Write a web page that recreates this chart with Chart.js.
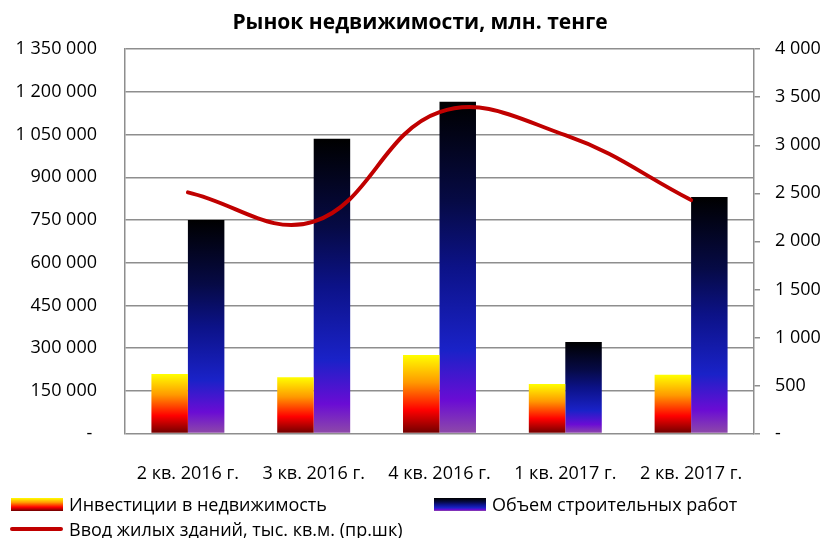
<!DOCTYPE html>
<html>
<head>
<meta charset="utf-8">
<script src="https://cdn.jsdelivr.net/npm/chart.js@4"></script>
<style>
  body { margin: 0; background: #fff; }
  #wrap { position: relative; width: 825px; height: 538px; }
  .lg { position: absolute; display: flex; align-items: center; height: 24px; font-family: 'Open Sans', sans-serif; font-size: 18px; color: #000; white-space: nowrap; }
  .lg .sw { width: 52px; height: 13px; margin-right: 6px; flex: none; }
  .lg .ln { width: 53px; height: 4px; margin-right: 6px; border-radius: 2px; flex: none; }
</style>
</head>
<body>
<div id="wrap">
  <canvas id="myChart" width="825" height="538"></canvas>
  <div id="legend"></div>
</div>
<script>
// данные
const categories = ['2 кв. 2016 г.', '3 кв. 2016 г.', '4 кв. 2016 г.', '1 кв. 2017 г.', '2 кв. 2017 г.'];
const investments = [209000, 198000, 276000, 174000, 206000];
const workVolume = [750000, 1035000, 1165000, 321000, 831000];
const housing = [2510, 2205, 3345, 3105, 2430];

const seriesNames = ['Инвестиции в недвижимость', 'Объем строительных работ', 'Ввод жилых зданий, тыс. кв.м. (пр.шк)'];

// градиенты столбиков (сверху вниз)
const investStops = [[0, '#FFFF00'], [0.35, '#FF9900'], [0.7, '#FF0000'], [1, '#6E0000']];
const volumeStops = [[0, '#000000'], [0.3, '#060A45'], [0.5, '#0C1288'], [0.75, '#1A22C8'], [0.9, '#6A0CD4'], [1, '#8E4AA8']];

function barGradient(stops) {
  return (context) => {
    const chart = context.chart;
    if (!chart.chartArea || context.type !== 'data') return stops[stops.length - 1][1];
    const yScale = chart.scales.y;
    const top = yScale.getPixelForValue(context.raw);
    const bottom = yScale.getPixelForValue(0);
    const g = chart.ctx.createLinearGradient(0, top, 0, bottom);
    stops.forEach(([o, c]) => g.addColorStop(o, c));
    return g;
  };
}

function fmt(v) {
  if (v === 0) return '- ';
  return String(v).replace(/\B(?=(\d{3})+(?!\d))/g, ' ');
}

const tickFont = { family: 'Open Sans', size: 18 };

const ctx = document.getElementById('myChart').getContext('2d');
const chart = new Chart(ctx, {
  data: {
    labels: categories,
    datasets: [
      {
        type: 'line',
        label: seriesNames[2],
        data: housing,
        yAxisID: 'y1',
        borderColor: '#C00000',
        borderWidth: 4,
        borderCapStyle: 'round',
        pointRadius: 0,
        tension: 0.4,
        fill: false,
        order: 0,
      },
      {
        type: 'bar',
        label: seriesNames[0],
        data: investments,
        yAxisID: 'y',
        backgroundColor: barGradient(investStops),
        categoryPercentage: 0.58,
        barPercentage: 1,
        order: 1,
      },
      {
        type: 'bar',
        label: seriesNames[1],
        data: workVolume,
        yAxisID: 'y',
        backgroundColor: barGradient(volumeStops),
        categoryPercentage: 0.58,
        barPercentage: 1,
        order: 1,
      },
    ],
  },
  options: {
    responsive: false,
    animation: false,
    layout: { padding: { top: 0, bottom: 0, left: 15, right: 0 } },
    plugins: {
      legend: { display: false },
      tooltip: { enabled: false },
      title: {
        display: true,
        text: 'Рынок недвижимости, млн. тенге',
        color: '#000',
        font: { family: 'Open Sans', size: 21, weight: 'bold' },
        padding: { top: 10, bottom: 14 },
      },
    },
    scales: {
      x: {
        grid: { display: false },
        border: { display: false },
        ticks: {
          color: '#000',
          font: { family: 'Open Sans', size: 18 },
          padding: 22,
          maxRotation: 0,
        },
        afterFit: (s) => { s.height = 104.5; },
      },
      y: {
        position: 'left',
        min: 0,
        max: 1350000,
        grid: { color: '#8E8E8E', lineWidth: 1.5, drawTicks: false },
        border: { display: true, color: '#8E8E8E', width: 1.5 },
        ticks: { stepSize: 150000, color: '#000', font: tickFont, padding: 28, callback: fmt },
        afterFit: (s) => { s.width = 110; },
      },
      y1: {
        position: 'right',
        min: 0,
        max: 4000,
        grid: { drawOnChartArea: false, drawTicks: true, tickLength: 6, color: '#8E8E8E', lineWidth: 1.5 },
        border: { display: true, color: '#8E8E8E', width: 1.5 },
        ticks: { stepSize: 500, color: '#000', font: tickFont, padding: 15, callback: fmt },
        afterFit: (s) => { s.width = 71; },
      },
    },
  },
});

// легенда
function cssGradient(stops) {
  return 'linear-gradient(to bottom, ' + stops.map(([o, c]) => c + ' ' + (o * 100) + '%').join(', ') + ')';
}
const legendItems = [
  { name: seriesNames[0], left: 11, top: 492, swatch: cssGradient(investStops), line: false },
  { name: seriesNames[1], left: 434, top: 492, swatch: cssGradient(volumeStops), line: false },
  { name: seriesNames[2], left: 10, top: 517, swatch: '#C00000', line: true },
];
const legendEl = document.getElementById('legend');
legendItems.forEach((it) => {
  const d = document.createElement('div');
  d.className = 'lg';
  d.style.left = it.left + 'px';
  d.style.top = it.top + 'px';
  const sw = document.createElement('span');
  sw.className = it.line ? 'ln' : 'sw';
  sw.style.background = it.swatch;
  const t = document.createElement('span');
  t.textContent = it.name;
  d.appendChild(sw);
  d.appendChild(t);
  legendEl.appendChild(d);
});
</script>
</body>
</html>
